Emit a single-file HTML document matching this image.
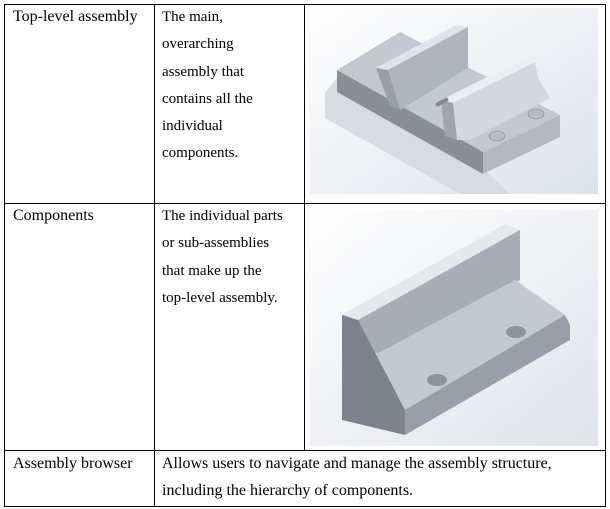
<!DOCTYPE html>
<html><head><style>
body{margin:0;width:610px;height:509px;background:#fff;position:relative;overflow:hidden;font-family:"Liberation Serif",serif;font-size:15px;color:#000}
.l{position:absolute;background:#000}
.t{position:absolute;line-height:27.3px;white-space:nowrap}
.b{font-size:16px}
</style></head><body>
<div class="l" style="left:4px;top:4px;width:602px;height:1px"></div>
<div class="l" style="left:4px;top:203px;width:602px;height:1px"></div>
<div class="l" style="left:4px;top:450px;width:602px;height:1px"></div>
<div class="l" style="left:4px;top:506px;width:602px;height:1px"></div>
<div class="l" style="left:4px;top:4px;width:1px;height:503px"></div>
<div class="l" style="left:154px;top:4px;width:1px;height:503px"></div>
<div class="l" style="left:304px;top:4px;width:1px;height:447px"></div>
<div class="l" style="left:605px;top:4px;width:1px;height:503px"></div>

<div class="t b" style="left:13px;top:3px">Top-level assembly</div>
<div class="t" style="left:162px;top:4px">The main,<br>overarching<br>assembly that<br>contains all the<br>individual<br>components.</div>
<div class="t b" style="left:13px;top:202px">Components</div>
<div class="t" style="left:162px;top:203px">The individual parts<br>or sub-assemblies<br>that make up the<br>top-level assembly.</div>
<div class="t b" style="left:13px;top:450px">Assembly browser</div>
<div class="t b" style="left:162px;top:450px">Allows users to navigate and manage the assembly structure,<br>including the hierarchy of components.</div>

<svg style="position:absolute;left:310px;top:8px" width="288" height="186" viewBox="0 0 288 186">
<defs><linearGradient id="bg" x1="0" y1="0" x2="1" y2="1"><stop offset="0" stop-color="#fff"/><stop offset="1" stop-color="#dde2ea"/></linearGradient></defs>
<rect width="288" height="186" fill="url(#bg)"/>
<polygon points="15,85 27,70 173,160 200,186 150,186 15,110" fill="#d8dce2"/>
<polygon points="27,62 90,24 250,107 173,144" fill="#c4c8d0"/>
<polygon points="27,62 173,144 173,166 27,84" fill="#8a8e98"/>
<polygon points="173,144 250,107 250,129 173,166" fill="#b4b8c0"/>
<polygon points="66,60 78,62 158,19 146,17" fill="#e0e3e8"/>
<polygon points="78,62 158,19 158,60 90,102" fill="#b0b4bc"/>
<polygon points="66,60 78,62 90,102 80,98" fill="#9a9ea8"/>
<polygon points="131,92 143,95 225,54 213,51" fill="#eceef2"/>
<polygon points="143,95 225,54 228,70 240,90 160,132 147,132" fill="#d4d7dd"/>
<polygon points="131,92 143,95 147,132 135,128" fill="#a0a4ad"/>
<ellipse cx="187" cy="128" rx="8" ry="5" fill="#b8bcc4" stroke="#888" stroke-width=".6"/>
<ellipse cx="226" cy="106" rx="8" ry="5" fill="#b8bcc4" stroke="#888" stroke-width=".6"/>
<rect x="125" y="92" width="14" height="4" rx="2" fill="#888" transform="rotate(-28 132 94)"/>
</svg>

<svg style="position:absolute;left:310px;top:210px" width="288" height="236" viewBox="0 0 288 236">
<defs><linearGradient id="bg2" x1="0" y1="0" x2="1" y2="1"><stop offset="0" stop-color="#fff"/><stop offset="1" stop-color="#dfe3ea"/></linearGradient></defs>
<rect width="288" height="236" fill="url(#bg2)"/>
<polygon points="32,105 195,15 210,20 210,70 80,150 60,140" fill="#a8acb5"/>
<polygon points="32,105 195,15 210,20 48,110" fill="#e6e8ec"/>
<polygon points="55,150 205,70 255,105 95,200" fill="#c4c8d0"/>
<polygon points="32,105 48,110 95,200 95,225 32,210" fill="#7e828c"/>
<polygon points="95,200 255,105 260,115 260,130 95,225" fill="#9a9ea8"/>
<ellipse cx="127" cy="170" rx="10" ry="6" fill="#8e929b"/>
<ellipse cx="206" cy="122" rx="10" ry="6" fill="#8e929b"/>
</svg>
</body></html>
